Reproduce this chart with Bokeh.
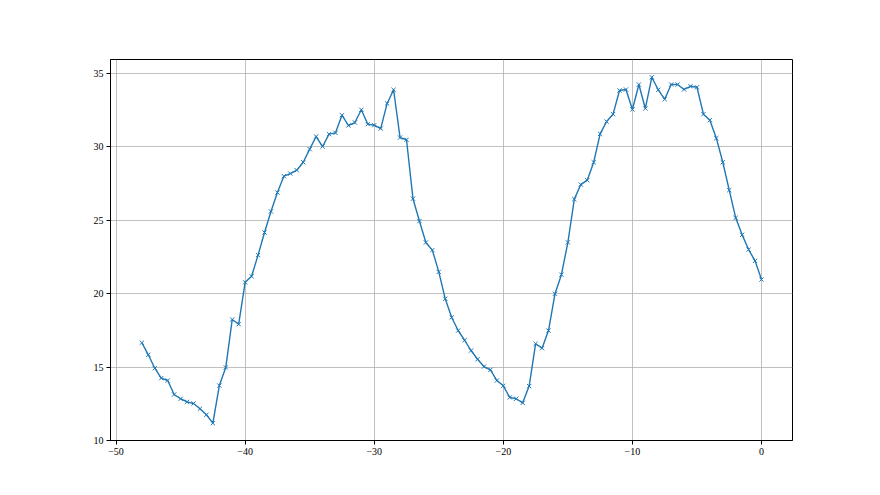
import numpy as np
from bokeh.plotting import figure
from bokeh.models import FixedTicker, Range1d
from bokeh.embed import file_html
from bokeh.resources import INLINE

x_values = [-48 + 0.5 * i for i in range(97)]
y_values = [
    16.65, 15.83, 14.92, 14.24, 14.08, 13.13, 12.84, 12.63, 12.52, 12.16,
    11.75, 11.18, 13.74, 14.97, 18.23, 17.91, 20.76, 21.17, 22.61, 24.15,
    25.58, 26.87, 27.98, 28.16, 28.39, 28.93, 29.82, 30.68, 30.00, 30.84,
    30.93, 32.13, 31.43, 31.63, 32.50, 31.52, 31.45, 31.22, 32.93, 33.86,
    30.61, 30.46, 26.45, 24.93, 23.47, 22.95, 21.47, 19.64, 18.37, 17.48,
    16.82, 16.12, 15.53, 15.03, 14.81, 14.08, 13.72, 12.93, 12.84, 12.56,
    13.70, 16.58, 16.28, 17.48, 19.98, 21.28, 23.48, 26.42, 27.41, 27.71,
    28.93, 30.86, 31.70, 32.20, 33.81, 33.88, 32.52, 34.22, 32.59, 34.71,
    33.86, 33.22, 34.22, 34.22, 33.88, 34.10, 34.03, 32.20, 31.79, 30.57,
    28.93, 27.03, 25.15, 23.99, 22.99, 22.22, 20.95,
]
x_ticks = [-50, -40, -30, -20, -10, 0]
y_ticks = [10, 15, 20, 25, 30, 35]

p = figure(width=872, height=487, output_backend="svg", toolbar_location=None,
           x_range=Range1d(-50.43, 2.40), y_range=Range1d(10, 35.92),
           min_border_left=110, min_border_right=80, min_border_top=59, min_border_bottom=47)

p.line(x_values, y_values, line_color="#1f77b4", line_width=1.4)
p.scatter(x_values, y_values, marker="x", size=6, line_color="#1f77b4", line_width=1)

p.xaxis.ticker = FixedTicker(ticks=x_ticks)
p.yaxis.ticker = FixedTicker(ticks=y_ticks)
p.xaxis.major_label_overrides = {t: (str(t).replace("-", "\u2212")) for t in x_ticks}
p.yaxis.major_label_overrides = {t: str(t) for t in y_ticks}

for ax in (p.xaxis[0], p.yaxis[0]):
    ax.minor_tick_line_color = None
    ax.major_tick_out = 4
    ax.major_tick_in = 0
    ax.major_tick_line_color = "black"
    ax.axis_line_color = "black"
    ax.major_label_text_font = "Liberation Sans Narrow"
    ax.major_label_text_font_size = "10px"
    ax.major_label_text_color = "black"
    ax.major_label_standoff = 3

p.grid.grid_line_color = "#b0b0b0"
p.grid.grid_line_width = 0.8
p.outline_line_color = "black"
p.outline_line_width = 1
p.outline_line_alpha = 1

open("out.html", "w").write(file_html(p, INLINE))
